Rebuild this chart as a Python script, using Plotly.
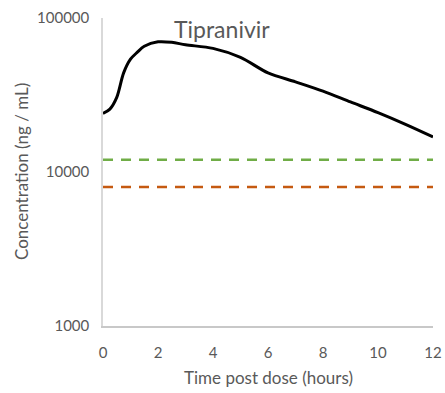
import plotly.graph_objects as go

time_h = [0, 0.25, 0.5, 0.75, 1, 1.25, 1.5, 2, 2.5, 3, 4, 5, 6, 7, 8, 9, 10, 11, 12]
conc = [24000, 25600, 30500, 44000, 54000, 60000, 65500, 70000, 69500, 67000, 63500, 55500, 44000, 38500, 33500, 28500, 24300, 20400, 16900]
green_level = 12000
orange_level = 8000
x_ticks = [0, 2, 4, 6, 8, 10, 12]
y_ticks = [1000, 10000, 100000]
title_text = "Tipranivir"
x_title = "Time post dose (hours)"
y_title = "Concentration (ng / mL)"

W, H = 445, 393
L, R, T, B = 103, 12, 18, 67
pw, ph = W - L - R, H - T - B


def px_x(x):
    return (x - L) / pw


def px_y(y):
    return 1 - (y - T) / ph


fig = go.Figure()
fig.add_trace(go.Scatter(x=[0, 12], y=[green_level, green_level], mode="lines",
                         line=dict(color="#70ad47", width=2.5, dash="10px,8px"), showlegend=False))
fig.add_trace(go.Scatter(x=[0, 12], y=[orange_level, orange_level], mode="lines",
                         line=dict(color="#c55a11", width=2.5, dash="10px,8px"), showlegend=False))
fig.add_trace(go.Scatter(x=time_h, y=conc, mode="lines",
                         line=dict(color="black", width=3, shape="spline", smoothing=0.9), showlegend=False))

font_fam = "Lato, 'Open Sans', sans-serif"
gray = "#595959"
fig.update_layout(
    width=W, height=H,
    margin=dict(l=L, r=R, t=T, b=B, autoexpand=False),
    paper_bgcolor="white", plot_bgcolor="white",
    font=dict(family=font_fam, color=gray, size=15),
    xaxis=dict(range=[0, 12], tickvals=x_ticks, showgrid=False, zeroline=False, automargin=False,
               showline=True, linecolor="#c8c8c8", linewidth=1.5, ticks="", ticklabelstandoff=12,
               tickfont=dict(size=15, color=gray)),
    yaxis=dict(type="log", range=[3, 5], tickvals=y_ticks, ticktext=[str(v) for v in y_ticks],
               showgrid=False, zeroline=False, showline=True, linecolor="#d9d9d9", linewidth=1.5,
               automargin=False, ticks="", ticklabelstandoff=9, tickfont=dict(size=15, color=gray)),
    annotations=[
        dict(text=title_text, x=px_x(222), y=px_y(29), xref="paper", yref="paper", showarrow=False,
             xanchor="center", yanchor="middle", font=dict(size=23, color=gray, family=font_fam)),
        dict(text=x_title, x=px_x(268), y=px_y(377), xref="paper", yref="paper", showarrow=False,
             xanchor="center", yanchor="middle", font=dict(size=17, color=gray, family=font_fam)),
        dict(text=y_title, x=px_x(21), y=px_y(172), xref="paper", yref="paper", showarrow=False,
             textangle=-90, xanchor="center", yanchor="middle", font=dict(size=17, color=gray, family=font_fam)),
    ],
)
fig.write_html("out.html")
